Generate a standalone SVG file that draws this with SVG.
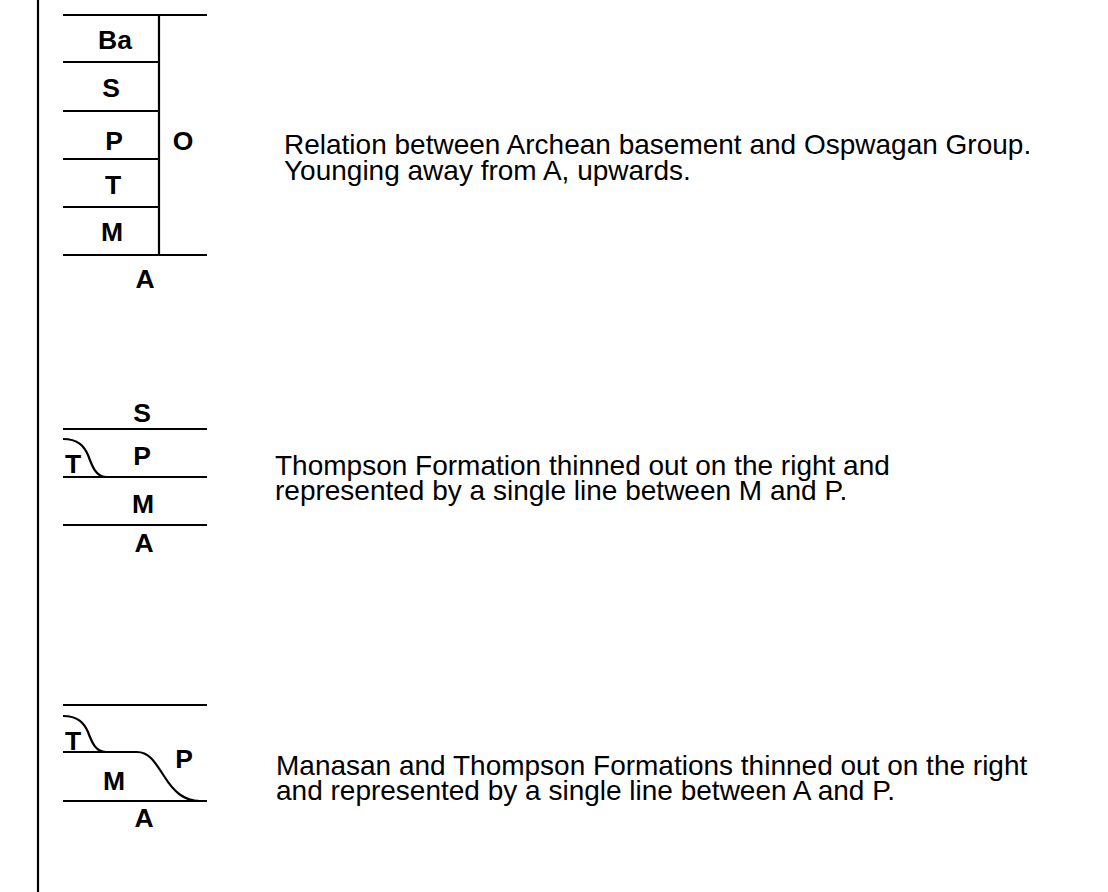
<svg xmlns="http://www.w3.org/2000/svg" width="1108" height="892" viewBox="0 0 1108 892">
<style>
.ln{stroke:#000;stroke-width:2.2;fill:none}
.lb{font-family:"Liberation Sans",Arial,sans-serif;font-weight:bold;font-size:26.5px;text-anchor:middle;fill:#000}
.tx{font-family:"Liberation Sans",Arial,sans-serif;font-size:28px;fill:#000}
</style>
<rect width="1108" height="892" fill="#fff"/>
<g id="frame"><line class="ln" x1="38" y1="0" x2="38" y2="892" stroke-width="2.6"/></g>
<g id="column1">
<line class="ln" x1="63" y1="15" x2="207" y2="15"/>
<line class="ln" x1="63" y1="62" x2="159" y2="62"/>
<line class="ln" x1="63" y1="111" x2="159" y2="111"/>
<line class="ln" x1="63" y1="159" x2="159" y2="159"/>
<line class="ln" x1="63" y1="207" x2="159" y2="207"/>
<line class="ln" x1="63" y1="255" x2="207" y2="255"/>
<line class="ln" x1="159" y1="15" x2="159" y2="255"/>
<text class="lb" x="115" y="49">Ba</text>
<text class="lb" x="111" y="97">S</text>
<text class="lb" x="114" y="150">P</text>
<text class="lb" x="113" y="194">T</text>
<text class="lb" x="112" y="241">M</text>
<text class="lb" x="183" y="150">O</text>
<text class="lb" x="145" y="288">A</text>
</g>
<g id="caption1">
<text class="tx" x="284" y="154">Relation between Archean basement and Ospwagan Group.<tspan x="284" dy="26">Younging away from A, upwards.</tspan></text>
</g>
<g id="column2">
<line class="ln" x1="63" y1="429" x2="207" y2="429"/>
<line class="ln" x1="63" y1="477" x2="207" y2="477"/>
<line class="ln" x1="63" y1="525" x2="207" y2="525"/>
<path class="ln" d="M63,439 C78,439 84,446 88,455 C92,466 96,477 106,477"/>
<text class="lb" x="142" y="422">S</text>
<text class="lb" x="142" y="465">P</text>
<text class="lb" x="73" y="473">T</text>
<text class="lb" x="143" y="513">M</text>
<text class="lb" x="144" y="552">A</text>
</g>
<g id="caption2">
<text class="tx" x="275" y="475">Thompson Formation thinned out on the right and<tspan x="275" dy="25">represented by a single line between M and P.</tspan></text>
</g>
<g id="column3">
<line class="ln" x1="63" y1="705" x2="207" y2="705"/>
<line class="ln" x1="63" y1="801" x2="207" y2="801"/>
<path class="ln" d="M63,752 L137,752 C150,752 156,764 164,776 C174,792 184,801 200,801"/>
<path class="ln" d="M63,716 C78,716 84,723 88,732 C92,743 96,752 106,752"/>
<text class="lb" x="73" y="750">T</text>
<text class="lb" x="114" y="790">M</text>
<text class="lb" x="184" y="768">P</text>
<text class="lb" x="144" y="827">A</text>
</g>
<g id="caption3">
<text class="tx" x="276" y="775">Manasan and Thompson Formations thinned out on the right<tspan x="276" dy="25">and represented by a single line between A and P.</tspan></text>
</g>
</svg>
